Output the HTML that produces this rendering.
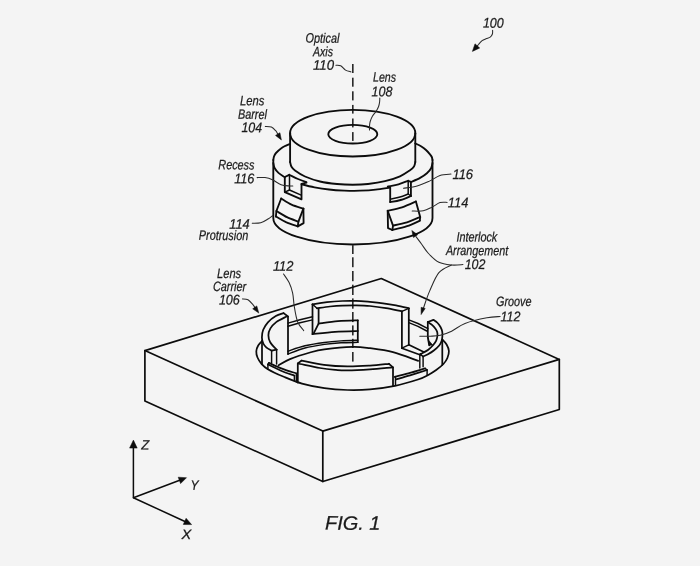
<!DOCTYPE html>
<html lang="en">
<head>
<meta charset="utf-8">
<title>FIG. 1</title>
<style>
html,body{margin:0;padding:0;background:#f4f4f4;}
body{width:700px;height:566px;overflow:hidden;position:relative;}
svg{display:block;position:absolute;left:0;top:0;will-change:transform;}
text{font-family:"Liberation Sans",sans-serif;font-style:italic;fill:#1a1a1a;stroke:#1a1a1a;stroke-width:0.25;text-rendering:geometricPrecision;}
.l{fill:none;stroke:#0c0c0c;stroke-width:1.85;stroke-linecap:round;stroke-linejoin:round;}
#carrier-box .l{stroke-width:1.7;}
#carrier-ring .l{stroke-width:1.75;}
#carrier-ring .m{stroke-width:1.45;}
.m{fill:none;stroke:#0c0c0c;stroke-width:1.5;stroke-linecap:round;stroke-linejoin:round;}
.d{fill:none;stroke:#2a2a2a;stroke-width:1.65;stroke-linecap:butt;}
.t{fill:none;stroke:#2a2a2a;stroke-width:1.05;stroke-linecap:round;stroke-linejoin:round;}
.a{fill:#0c0c0c;stroke:#0c0c0c;stroke-width:0.5;stroke-linejoin:round;}
</style>
</head>
<body>
<svg width="700" height="566" viewBox="0 0 700 566">
<rect width="700" height="566" fill="#f4f4f4"/>
<g id="axis">
<line class="d" x1="352.8" y1="64" x2="352.8" y2="73"/>
<line class="d" x1="352.8" y1="77.7" x2="352.8" y2="86.7"/>
<line class="d" x1="352.8" y1="91.3" x2="352.8" y2="100.4"/>
<line class="d" x1="352.8" y1="104.9" x2="352.8" y2="113.6"/>
<line class="d" x1="352.8" y1="118.5" x2="352.8" y2="127.4"/>
<line class="d" x1="352.8" y1="132.1" x2="352.8" y2="140.9"/>
<line class="d" x1="352.8" y1="245.2" x2="352.8" y2="254"/>
<line class="d" x1="352.8" y1="257.3" x2="352.8" y2="267.2"/>
<line class="d" x1="352.8" y1="271" x2="352.8" y2="281.2"/>
<line class="d" x1="352.8" y1="284.7" x2="352.8" y2="295"/>
<line class="d" x1="352.8" y1="298.4" x2="352.8" y2="308.7"/>
<line class="d" x1="352.8" y1="312" x2="352.8" y2="322.1"/>
<line class="d" x1="352.8" y1="325.4" x2="352.8" y2="335.4"/>
<line class="d" x1="352.8" y1="338.8" x2="352.8" y2="348"/>
<line class="d" x1="352.8" y1="352" x2="352.8" y2="361.6"/>
</g>
<g id="carrier-box">
<path class="l" d="M144.9 350.6 L381.3 278.5 L559.3 359.4 L322.8 431.1 Z"/>
<path class="l" d="M144.9 350.6 L144.9 401.1 L322.8 481.5 L559.3 409.5 L559.3 359.4"/>
<path class="l" d="M322.8 431.1 L322.8 481.5"/>
</g>
<g id="barrel">
<path class="l" d="M273.3 160 L273.3 218 A79.6 26.5 0 0 0 432.5 218 L432.5 160"/>
<path class="l" d="M273.3 163 C273.5 163.8 273.7 166.4 274.6 168 C275.5 169.7 276.8 171.3 278.5 172.9 C280.2 174.4 283.8 176.6 284.8 177.4"/>
<path class="l" d="M301.5 184.2 C303.7 184.8 309.9 186.5 314.5 187.3 C319.1 188.2 324 189 329 189.5 C333.9 190.1 339.2 190.4 344.4 190.6 C349.6 190.8 354.9 190.9 360.1 190.7 C365.3 190.5 370.6 190.2 375.6 189.6 C380.6 189.1 387.7 187.9 390.1 187.6"/>
<path class="l" d="M410.9 182 C412.5 181.3 417.4 179.4 420.1 177.9 C422.8 176.4 425.1 174.8 426.9 173.2 C428.7 171.6 430.2 169.9 431.1 168.2 C432 166.5 432.3 163.9 432.5 163"/>
<path class="l" d="M273.3 160 C273.4 159.4 273.6 157.7 274 156.5 C274.4 155.3 274.8 154.3 276 153 C277.2 151.7 279.4 149.7 281 148.5 C282.6 147.3 284 146.6 285.5 145.8 C287 145.1 289.3 144.3 290.1 144"/>
<path class="l" d="M432.5 160 C432.4 159.5 432.2 157.9 431.8 157 C431.4 156.1 431 155.6 430 154.4 C429 153.2 427.5 151.4 426 150 C424.5 148.6 422.8 147.3 421 146.2 C419.2 145.1 416.2 143.9 415.2 143.4"/>
<ellipse class="l" cx="352.7" cy="133.2" rx="62.6" ry="23.3"/>
<path class="l" d="M290.1 133.2 L290.1 162"/>
<path class="l" d="M415.3 133.2 L415.3 162"/>
<path class="l" d="M290.1 162 C290.3 162.8 290.7 165.4 291.5 166.8 C292.3 168.2 292.8 168.9 295 170.5 C297.2 172.1 300.8 174.7 305 176.5 C309.2 178.3 314.7 180.2 320 181.5 C325.3 182.8 331.6 183.5 337 184 C342.4 184.5 347.5 184.7 352.7 184.7 C357.9 184.7 362.6 184.6 368 184 C373.4 183.4 379.7 182.5 385 181.2 C390.3 179.9 395.8 178.1 400 176.3 C404.2 174.5 407.7 171.9 410 170.3 C412.3 168.7 413.1 167.9 414 166.5 C414.9 165.1 415.1 162.8 415.3 162"/>
<ellipse class="l" cx="352.8" cy="134.2" rx="24.5" ry="9.3"/>
</g>
<g id="recess-left">
<path class="l" d="M289.3 174.8 L284.8 177 L284.8 192.1 L301.5 199.3 L301.5 183.8 L306.4 182.6"/>
<path class="l" d="M289.3 174.8 C290.8 175.5 295.1 177.8 298 179 C300.9 180.2 305 181.7 306.4 182.2"/>
<path class="m" d="M289.5 175.2 L289.5 190 L284.8 192.1"/>
<path class="m" d="M289.5 190 L300.6 194.9"/>
</g>
<g id="recess-right">
<path class="l" d="M387.8 186.6 L390.2 187.3 L390.2 202.1"/>
<path class="l" d="M390.2 202.1 C391.9 201.8 397.2 201 400.6 200 C404.1 199 409.2 196.7 410.9 196"/>
<path class="l" d="M410.9 196 L410.9 181.9 L408.2 180.8"/>
<path class="l" d="M387.8 186.6 C389.6 186.2 395.1 185.4 398.5 184.4 C401.9 183.4 406.6 181.4 408.2 180.8"/>
<path class="m" d="M408.2 180.8 L408.2 194 L410.9 196"/>
<path class="m" d="M391.3 198.9 C392.8 198.6 397.2 197.8 400 197 C402.8 196.2 406.8 194.5 408.2 194"/>
</g>
<g id="protrusion-left">
<path class="l" d="M281.2 198.5 C282.9 199.5 287.8 202.9 291.5 204.6 C295.2 206.3 301.4 207.9 303.4 208.6"/>
<path class="l" d="M303.4 208.6 L303.6 223.1 L297.8 226.4"/>
<path class="l" d="M297.8 226.4 C295.8 225.7 289.6 223.8 286 222.2 C282.4 220.5 277.6 217.4 275.9 216.5"/>
<path class="l" d="M275.9 216.5 L276.4 211 L281.2 198.5"/>
<path class="l" d="M276.4 211 C278.2 212 283.3 215.4 287 217.2 C290.7 219 296.5 220.9 298.4 221.7"/>
<path class="l" d="M303.4 208.6 L298.4 221.7 L297.8 226.4"/>
</g>
<g id="protrusion-right">
<path class="l" d="M387.7 210.8 C390.1 210.2 397.3 208.9 402 207.3 C406.7 205.8 413.6 202.5 415.9 201.5"/>
<path class="l" d="M415.9 201.5 L420.2 217 L419.8 220.7"/>
<path class="l" d="M419.8 220.7 C417.7 221.6 411.6 224.6 407 226.2 C402.4 227.8 394.8 229.4 392.4 230"/>
<path class="l" d="M392.4 230 L388 228.1 L387.7 210.8"/>
<path class="l" d="M393 225.6 C395.3 225.1 402.5 223.7 407 222.3 C411.5 220.9 418 217.9 420.2 217"/>
<path class="l" d="M387.7 210.8 L393 225.6 L392.4 230"/>
</g>
<g id="carrier-ring">
<path class="l" d="M262.1 341.1 C261.5 341.8 259.2 343.8 258.2 345.5 C257.2 347.2 256.4 349.2 256.3 351.2 C256.2 353.2 256.6 355.4 257.5 357.5 C258.4 359.6 259.8 361.9 261.5 363.9 C263.2 365.8 264.2 367 267.9 369.2 C271.6 371.4 278.1 374.4 283.8 376.8 C289.5 379.2 295.2 381.7 302 383.6 C308.8 385.5 316.8 387.1 324.4 388.2 C332 389.3 339.8 389.8 347.4 390 C355 390.2 362.1 390.1 370 389.4 C377.9 388.7 387 387.4 395 385.8 C403 384.2 412.4 381.3 418 379.5 C423.6 377.7 425.3 376.5 428.3 374.9 C431.3 373.3 433.7 371.8 436.2 370 C438.7 368.2 441.5 366 443.4 364 C445.3 362 446.5 360.2 447.4 358 C448.3 355.8 449 353.2 448.9 351 C448.8 348.8 447.7 346.4 446.6 344.5 C445.5 342.6 443 340.4 442.3 339.6"/>
<path class="l" d="M271.6 350.7 C270.8 350.2 267.9 348.8 266.5 347.6 C265.1 346.4 264.1 345.2 263.3 343.5 C262.5 341.8 261.9 339.8 261.9 337.5 C261.9 335.2 262.2 332.3 263.2 329.8 C264.2 327.3 265.8 324.6 267.9 322.3 C270 320 273.2 317.5 275.8 316 C278.4 314.5 282.2 313.6 283.5 313.1"/>
<path class="l" d="M283.6 313.1 L288 316.5"/>
<path class="l" d="M286.2 316.7 C284.5 317.6 278.8 320.2 276.2 322.1 C273.6 324.1 271.7 326.2 270.4 328.4 C269.1 330.6 268.4 332.9 268.4 335.2 C268.4 337.5 268.8 339.8 270.2 342.2 C271.6 344.6 275.5 348.4 276.6 349.6"/>
<path class="l" d="M271.6 350.7 L276.6 349.6"/>
<path class="m" d="M271.6 350.7 L271.6 362.8"/>
<path class="m" d="M276.6 349.6 L276.6 363.9"/>
<path class="l" d="M288 316.5 L288 354"/>
<path class="l" d="M262 340.5 L262 364"/>
<path class="m" d="M288 323.1 L300 319.8 L312.5 316.8"/>
<path class="m" d="M288 326.3 L300 322.8 L312.5 319.9"/>
<path class="m" d="M288 351.2 C290.8 350.3 298.9 347.2 305 345.8 C311.1 344.4 318.4 343.3 324.4 342.5 C330.4 341.7 335.4 341.3 341 340.9 C346.6 340.5 355 340.3 357.8 340.2"/>
<path class="m" d="M288 354 C290.8 353 298.9 349.6 305 348 C311.1 346.4 318.4 345.3 324.4 344.4 C330.4 343.5 335.4 343.1 341 342.8 C346.6 342.5 355 342.4 357.8 342.3"/>
<path class="l" d="M312.5 304.3 C314.9 303.9 322 302.8 327 302.2 C332 301.6 337.6 301.2 342.4 301 C347.2 300.8 351.4 300.8 356 300.9 C360.6 301 365.5 301.5 370 301.9 C374.5 302.3 378.7 302.7 383 303.3 C387.3 303.9 391.7 304.6 396 305.4 C400.3 306.2 406.7 307.8 408.8 308.3"/>
<path class="l" d="M317 308.3 C319.2 308 325.8 306.9 330 306.5 C334.2 306.1 338.1 305.8 342.4 305.6 C346.7 305.4 351.4 305.2 356 305.3 C360.6 305.4 365 305.5 370 306 C375 306.5 380.7 307.3 386 308.2 C391.3 309.1 399.2 310.9 401.9 311.4"/>
<path class="l" d="M312.5 304.3 L312.5 334.2"/>
<path class="m" d="M312.5 304.3 L317 308.3"/>
<path class="l" d="M318.6 308.8 L318.6 323.6 L313.8 333.2"/>
<path class="l" d="M318.6 323.6 C321.8 323.2 331.5 321.7 338 321.2 C344.5 320.7 354.5 320.5 357.8 320.4"/>
<path class="l" d="M357.8 320.4 L357.8 342.2"/>
<path class="l" d="M312.5 334.2 C316.2 333.8 327.4 332.3 335 331.8 C342.6 331.3 354 331.1 357.8 331"/>
<path class="l" d="M408.8 308.3 L408.8 344.8"/>
<path class="l" d="M401.9 311.4 L401.9 348.2"/>
<path class="m" d="M401.9 311.4 L408.8 308.3"/>
<path class="m" d="M401.9 348.2 L408.8 344.8"/>
<path class="l" d="M401.9 348.2 L421.2 355.3"/>
<path class="l" d="M408.8 344.8 L423.3 351.7"/>
<path class="m" d="M408.8 319.9 L418 323.5 L427.9 328.7"/>
<path class="m" d="M408.8 322.6 L418 326.3 L426.8 331"/>
<path class="l" d="M427.8 322 L433.5 319.9"/>
<path class="l" d="M433.5 319.9 C434.2 320.4 436.4 321.8 437.6 323 C438.8 324.2 439.7 325.6 440.5 327 C441.3 328.4 441.9 330 442.2 331.5 C442.5 333 442.5 334.4 442.4 336 C442.3 337.6 442.1 339.4 441.6 341 C441.1 342.6 440.5 343.9 439.2 345.5 C437.9 347.1 435.8 349 433.8 350.5 C431.9 352 429.3 353.5 427.5 354.5 C425.7 355.5 423.8 356.2 423.1 356.5"/>
<path class="l" d="M427.8 322 C428.5 322.5 430.8 323.7 432 324.8 C433.2 325.9 434.4 327.2 435.3 328.4 C436.2 329.6 436.9 330.7 437.2 332 C437.5 333.3 437.6 334.6 437.4 336 C437.2 337.4 436.9 339.1 436.2 340.6 C435.5 342.2 434.3 343.8 433 345.3 C431.7 346.8 430 348.4 428.3 349.7 C426.6 351 424 352.2 422.7 352.9 C421.4 353.6 420.7 353.9 420.3 354.1"/>
<path class="l" d="M427.8 322 L427.8 337 L429.2 345.4"/>
<path class="m" d="M420.3 354.1 L423.1 356.5"/>
<path class="a" d="M427.6 336 L429.1 345.5 L432.8 345 L428.9 340.6 Z"/>
<path class="l" d="M442.3 339.5 L442.3 364.8"/>
<path class="m" d="M419.8 354.5 L419.8 368"/>
<path class="m" d="M423.1 356.5 L423.1 366.8"/>
<path class="l" d="M394.7 376.9 C397.2 376.2 404.9 374.3 410 372.9 C415.1 371.5 422.6 369.1 425.1 368.4"/>
<path class="l" d="M395.8 379.5 C398.2 378.8 404.8 377 410 375.4 C415.2 373.8 424.2 370.9 427.1 370"/>
<path class="m" d="M425.1 368.4 L427.1 370 L427.1 375"/>
<path class="m" d="M395.5 377 L395.5 385"/>
<path class="l" d="M301.5 360.6 C305.2 361.3 316.4 363.8 324 364.8 C331.6 365.8 339.7 366.3 347.4 366.4 C355.1 366.5 363.1 366 370 365.6 C376.9 365.2 385.8 364.1 389 363.8"/>
<path class="l" d="M297.8 363.5 C301.5 364.2 313.6 366.9 320 368 C326.4 369.1 331.3 369.5 335.9 369.9 C340.5 370.3 341.7 370.5 347.4 370.4 C353.1 370.3 362.4 369.8 370 369.3 C377.6 368.8 389.2 367.6 393 367.3"/>
<path class="l" d="M297.8 382.6 L297.8 363.5 L301.5 360.6"/>
<path class="l" d="M389 363.8 L393 367.3 L393 385.8"/>
<path class="l" d="M267.9 364.4 C270.1 365.5 276.6 368.9 281 370.8 C285.4 372.7 292.2 374.8 294.4 375.6"/>
<path class="l" d="M268.9 362.8 C271.1 363.8 277.4 366.8 282 368.6 C286.6 370.4 294 372.6 296.4 373.4"/>
<path class="m" d="M267.9 364.4 L267.9 369.2"/>
<path class="m" d="M267.9 364.4 L268.9 362.8"/>
<path class="m" d="M294.4 375.6 L294.4 381"/>
<path class="m" d="M296.4 373.4 L296.4 382"/>
<path class="l" d="M278.6 365.2 C280.5 364.2 284.8 361.2 290 359.1 C295.2 357 304.3 354.1 310 352.5 C315.7 350.9 317.3 350.3 324.4 349.4 C331.5 348.4 345 347 352.6 346.8 C360.2 346.6 363.3 347.3 370 348.2 C376.7 349.1 385 350.1 393 352.2 C401 354.3 414 359.4 418.2 360.8"/>
</g>
<g id="axes">
<path class="m" d="M133.4 446 L133.4 497.7 L181 479.8"/>
<path class="m" d="M133.4 497.7 L185.5 521.8"/>
<path class="a" d="M133.4 440.1 L137.2 448.1 L129.6 448.1 Z"/>
<path class="a" d="M186.5 477.7 L180.6 483.6 L178.2 477.2 Z"/>
<path class="a" d="M191.6 524.6 L183.3 524.5 L186.1 518.3 Z"/>
</g>
<g id="leaders">
<path class="t" d="M492.6 30.3 C492.6 30.9 492.8 32.9 492.4 34 C492 35.1 491.3 36.4 490.2 37.2 C489.1 38 487.4 38.2 486 38.8 C484.6 39.4 483.3 39.8 482.1 40.7 C480.9 41.6 479.5 43.2 478.6 44.3 C477.7 45.3 476.9 46.5 476.5 47"/>
<path class="a" d="M472.4 51.4 L475 43.8 L479.7 48 Z"/>
<path class="t" d="M335.9 65.3 C336.7 65.4 339.1 65 340.7 65.8 C342.3 66.6 343.8 69.1 345.5 70.1 C347.2 71.1 350.1 71.6 351 71.9"/>
<path class="t" d="M379.8 98 C379.8 98.7 379.8 100.6 379.6 102 C379.4 103.4 379.2 104.9 378.6 106.5 C378 108.1 377 109.9 376 111.5 C375 113.1 373.4 114.5 372.4 116.2 C371.4 117.9 370.7 119.9 370.2 121.5 C369.7 123.1 369.6 124.6 369.5 126 C369.4 127.4 369.5 129.3 369.5 130"/>
<path class="t" d="M265.3 126.4 C266.3 126.5 269.7 126.4 271.4 127.1 C273.1 127.8 274.6 129.5 275.7 130.7 C276.8 131.9 277.5 133.7 277.9 134.3"/>
<path class="a" d="M281.4 140 L275.5 135.4 L279.9 132.7 Z"/>
<path class="t" d="M257.1 177.6 C258.4 177.6 262.4 177.2 265 177.6 C267.6 178 269.7 178.6 272.4 179.8 C275.1 181 278.2 183.8 281.1 184.8 C284 185.8 287.8 185.8 289.7 186 C291.6 186.2 292.3 186 292.8 186"/>
<path class="t" d="M252.2 223.3 C253.6 223.2 258.1 223.5 260.7 222.8 C263.3 222.1 266 220.2 268 219 C270 217.8 271.9 216.2 272.7 215.7"/>
<path class="t" d="M451 174.1 C449.2 174.3 443.6 174.3 440 175.5 C436.4 176.7 433.3 179.3 429.5 181.1 C425.7 182.8 421.4 184.8 417.1 186 C412.8 187.2 405.8 187.9 403.5 188.3"/>
<path class="t" d="M447.1 202.4 C445.9 202.4 442.5 201.8 440 202.6 C437.5 203.4 434.8 205.7 432 207.1 C429.2 208.5 426.6 210.2 423.3 210.8 C420 211.5 414.1 211 412.2 211"/>
<path class="t" d="M463 264.6 C461.1 264.7 455.4 265.4 451.4 265 C447.4 264.6 442.7 264.2 438.9 262.3 C435.1 260.4 431.4 256.6 428.5 253.5 C425.6 250.4 423.6 246.8 421.5 244 C419.4 241.2 416.9 237.8 416 236.6"/>
<path class="a" d="M411.8 230.5 L417.7 234.7 L413.5 237.5 Z"/>
<path class="t" d="M451.4 265 C449.3 266.3 442.5 268.3 438.9 272.6 C435.3 276.9 432.3 285 429.7 290.9 C427.1 296.8 424.5 305.1 423.5 308"/>
<path class="a" d="M421.1 314.6 L421.1 307.3 L425.2 308.5 Z"/>
<path class="t" d="M500.1 316.5 C497.9 316.7 492.8 316.7 486.9 317.8 C481 318.9 470.9 321.2 465 323.4 C459.1 325.6 455.7 329.2 451.6 331.2 C447.5 333.2 443.8 334.4 440.3 335.2 C436.8 336 433.8 336 430.4 336.2 C427 336.4 421.6 336.2 419.8 336.2"/>
<path class="t" d="M283.5 274 C284.4 275.4 287.6 279.5 289.1 282.6 C290.6 285.8 291.7 288.9 292.6 292.9 C293.5 296.9 293.5 301.8 294.3 306.6 C295.1 311.5 296.1 318 297.7 322 C299.3 326 302.7 329.2 303.7 330.6"/>
<path class="t" d="M242.5 298.9 C243.4 299 246.2 298.7 248 299.7 C249.8 300.7 251.8 303.4 253.1 304.9 C254.3 306.4 255.1 307.9 255.5 308.5"/>
<path class="a" d="M258.8 313.1 L252.7 308.8 L256.8 305.9 Z"/>
</g>
<g id="labels">
<text transform="translate(482.9 27.6) rotate(0.3) scale(0.885 1)" font-size="14">100</text>
<text transform="translate(305.6 42.6) rotate(0.3) scale(0.797 1)" font-size="13.6">Optical</text>
<text transform="translate(313.1 56.2) rotate(0.3) scale(0.773 1)" font-size="13.6">Axis</text>
<text transform="translate(313 69.8) rotate(0.3) scale(0.940 1)" font-size="14">110</text>
<text transform="translate(373 81.6) rotate(0.3) scale(0.779 1)" font-size="13.6">Lens</text>
<text transform="translate(371.6 96.2) rotate(0.3) scale(0.890 1)" font-size="14">108</text>
<text transform="translate(240 105.2) rotate(0.3) scale(0.823 1)" font-size="13.6">Lens</text>
<text transform="translate(237.9 118.8) rotate(0.3) scale(0.798 1)" font-size="13.6">Barrel</text>
<text transform="translate(241.4 132.1) rotate(0.3) scale(0.885 1)" font-size="14">104</text>
<text transform="translate(218.3 169.3) rotate(0.3) scale(0.798 1)" font-size="13.6">Recess</text>
<text transform="translate(234.2 183.2) rotate(0.3) scale(0.906 1)" font-size="14">116</text>
<text transform="translate(229.2 228.8) rotate(0.3) scale(0.918 1)" font-size="14">114</text>
<text transform="translate(198.8 239.8) rotate(0.3) scale(0.798 1)" font-size="13.6">Protrusion</text>
<text transform="translate(452.4 178.9) rotate(0.3) scale(0.924 1)" font-size="14">116</text>
<text transform="translate(447.8 207.2) rotate(0.3) scale(0.927 1)" font-size="14">114</text>
<text transform="translate(456.4 241.4) rotate(0.3) scale(0.794 1)" font-size="13.6">Interlock</text>
<text transform="translate(445.9 255) rotate(0.3) scale(0.792 1)" font-size="13.6">Arrangement</text>
<text transform="translate(464.7 269) rotate(0.3) scale(0.881 1)" font-size="14">102</text>
<text transform="translate(272.9 270.8) rotate(0.3) scale(0.918 1)" font-size="14">112</text>
<text transform="translate(217.1 278) rotate(0.3) scale(0.813 1)" font-size="13.6">Lens</text>
<text transform="translate(212.9 291) rotate(0.3) scale(0.801 1)" font-size="13.6">Carrier</text>
<text transform="translate(218.9 304.5) rotate(0.3) scale(0.894 1)" font-size="14">106</text>
<text transform="translate(496 305.9) rotate(0.3) scale(0.794 1)" font-size="13.6">Groove</text>
<text transform="translate(500.6 321.2) rotate(0.3) scale(0.891 1)" font-size="14">112</text>
<text transform="translate(141.3 449.6) rotate(0.3) scale(0.958 1)" font-size="13.6">Z</text>
<text transform="translate(190.6 489.8) rotate(0.3) scale(0.886 1)" font-size="13.6">Y</text>
<text transform="translate(181.6 539.1) rotate(0.3) scale(1.072 1)" font-size="13.6">X</text>
<text transform="translate(325 529.6) rotate(0.3) scale(1.022 1)" font-size="19.5">FIG. 1</text>
</g>
</svg>
</body>
</html>
